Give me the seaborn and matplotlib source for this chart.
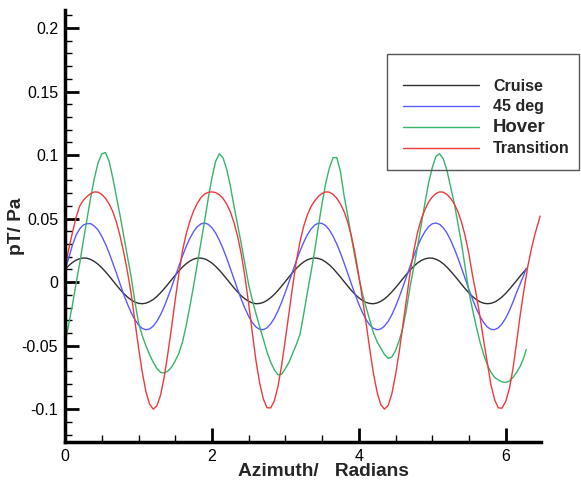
import numpy as np
import pandas as pd
import matplotlib
matplotlib.use("Agg")
import matplotlib.pyplot as plt
import matplotlib.patches as mpatches
from matplotlib.ticker import MultipleLocator, FixedLocator
import seaborn as sns

# ================================================
# DATA (step 0.05 rad)
# ================================================
azimuth = list(np.round(np.arange(0, 6.26, 0.05), 2)) + [6.28]

cruise = [0.0101, 0.0130, 0.0154, 0.0173, 0.0185, 0.0190, 0.0188, 0.0178, 0.0162, 0.0140,
          0.0113, 0.0082, 0.0048, 0.0012, -0.0024, -0.0059, -0.0090, -0.0118, -0.0140, -0.0157,
          -0.0167, -0.0170, -0.0166, -0.0154, -0.0137, -0.0113, -0.0084, -0.0052, -0.0017, 0.0019,
          0.0054, 0.0088, 0.0119, 0.0145, 0.0166, 0.0181, 0.0189, 0.0189, 0.0183, 0.0169,
          0.0150, 0.0124, 0.0095, 0.0061, 0.0026, -0.0010, -0.0045, -0.0078, -0.0108, -0.0132,
          -0.0151, -0.0164, -0.0170, -0.0168, -0.0160, -0.0144, -0.0123, -0.0096, -0.0065, -0.0031,
          0.0005, 0.0041, 0.0076, 0.0108, 0.0136, 0.0159, 0.0176, 0.0186, 0.0190, 0.0186,
          0.0176, 0.0158, 0.0135, 0.0107, 0.0074, 0.0040, 0.0004, -0.0032, -0.0066, -0.0097,
          -0.0123, -0.0145, -0.0160, -0.0168, -0.0170, -0.0164, -0.0151, -0.0132, -0.0107, -0.0077,
          -0.0044, -0.0009, 0.0027, 0.0062, 0.0096, 0.0125, 0.0151, 0.0170, 0.0183, 0.0189,
          0.0189, 0.0180, 0.0166, 0.0145, 0.0118, 0.0087, 0.0053, 0.0018, -0.0018, -0.0053,
          -0.0085, -0.0114, -0.0137, -0.0155, -0.0166, -0.0170, -0.0167, -0.0157, -0.0140, -0.0117,
          -0.0089, -0.0057, -0.0022, 0.0013, 0.0049, 0.0083, 0.0100]

deg45 = [0.010, 0.019, 0.029, 0.037, 0.042, 0.045, 0.046, 0.046, 0.044, 0.041,
         0.036, 0.030, 0.023, 0.015, 0.007, -0.0016, -0.010, -0.0173, -0.024, -0.0295,
         -0.0337, -0.0364, -0.0375, -0.0369, -0.0347, -0.0309, -0.0257, -0.0193, -0.0119, -0.0040,
         0.0044, 0.0126, 0.0207, 0.0281, 0.0345, 0.0397, 0.0436, 0.0458, 0.0465, 0.0455,
         0.0428, 0.0387, 0.0331, 0.0265, 0.0190, 0.0109, 0.0025, -0.0057, -0.0136, -0.0207,
         -0.0269, -0.0318, -0.0353, -0.0372, -0.0374, -0.0360, -0.0329, -0.0284, -0.0226, -0.0157,
         -0.0080, 0.0002, 0.0086, 0.0168, 0.0245, 0.0314, 0.0373, 0.0418, 0.0449, 0.0464,
         0.0462, 0.0444, 0.0410, 0.0360, 0.0300, 0.0229, 0.0150, 0.0067, -0.0016, -0.0097,
         -0.0173, -0.0240, -0.0296, -0.0338, -0.0364, -0.0375, -0.0369, -0.0346, -0.0309, -0.0257,
         -0.0192, -0.0119, -0.0039, 0.0044, 0.0127, 0.0207, 0.0281, 0.0345, 0.0397, 0.0436,
         0.0459, 0.0465, 0.0455, 0.0428, 0.0387, 0.0331, 0.0264, 0.0189, 0.0108, 0.0025,
         -0.0058, -0.0136, -0.0208, -0.0269, -0.0318, -0.0353, -0.0372, -0.0374, -0.0360, -0.0329,
         -0.0284, -0.0226, -0.0156, -0.0080, -0.0010, 0.0060, 0.0110]

hover = [-0.048, -0.033, -0.018, -0.001, 0.015, 0.033, 0.050, 0.067, 0.082, 0.094,
         0.101, 0.102, 0.095, 0.082, 0.067, 0.052, 0.036, 0.020, 0.004, -0.015,
         -0.032, -0.042, -0.050, -0.057, -0.063, -0.068, -0.071, -0.0715, -0.070, -0.067,
         -0.062, -0.056, -0.047, -0.034, -0.019, -0.003, 0.014, 0.031, 0.048, 0.066,
         0.082, 0.095, 0.101, 0.098, 0.089, 0.076, 0.060, 0.045, 0.030, 0.014,
         -0.002, -0.014, -0.025, -0.035, -0.045, -0.055, -0.063, -0.069, -0.073, -0.0725,
         -0.068, -0.063, -0.056, -0.049, -0.041, -0.025, -0.008, 0.008, 0.025, 0.044,
         0.062, 0.078, 0.090, 0.098, 0.098, 0.087, 0.068, 0.052, 0.035, 0.019,
         0.004, -0.009, -0.020, -0.030, -0.040, -0.047, -0.052, -0.057, -0.060, -0.059,
         -0.054, -0.046, -0.036, -0.021, -0.003, 0.012, 0.028, 0.045, 0.062, 0.078,
         0.090, 0.099, 0.101, 0.097, 0.088, 0.075, 0.062, 0.046, 0.030, 0.011,
         -0.008, -0.022, -0.035, -0.047, -0.057, -0.065, -0.071, -0.075, -0.077, -0.0785,
         -0.079, -0.078, -0.075, -0.071, -0.066, -0.059, -0.053]

azimuth_tr = list(np.round(np.arange(0, 6.41, 0.05), 2)) + [6.47]
transition = [0.011, 0.026, 0.039, 0.051, 0.060, 0.0645, 0.0675, 0.0697, 0.071, 0.0708,
              0.069, 0.066, 0.0615, 0.0555, 0.047, 0.036, 0.023, 0.008, -0.009, -0.0304,
              -0.0515, -0.0704, -0.086, -0.0959, -0.100, -0.0975, -0.089, -0.0747, -0.056, -0.0358,
              -0.014, 0.0064, 0.025, 0.038, 0.048, 0.056, 0.062, 0.0665, 0.0693, 0.0707,
              0.071, 0.0705, 0.0688, 0.066, 0.0615, 0.0555, 0.047, 0.036, 0.022, 0.004,
              -0.017, -0.040, -0.062, -0.0794, -0.092, -0.0989, -0.099, -0.0935, -0.082, -0.0652,
              -0.045, -0.024, -0.003, 0.0168, 0.032, 0.044, 0.053, 0.0595, 0.064, 0.0675,
              0.0698, 0.071, 0.0708, 0.069, 0.066, 0.0615, 0.0555, 0.047, 0.036, 0.022,
              0.005, -0.013, -0.0325, -0.0531, -0.072, -0.0868, -0.0965, -0.100, -0.097, -0.088,
              -0.073, -0.0551, -0.034, -0.0126, 0.008, 0.025, 0.039, 0.0495, 0.057, 0.063,
              0.067, 0.0697, 0.071, 0.0708, 0.069, 0.066, 0.0615, 0.0555, 0.047, 0.036,
              0.022, 0.005, -0.010, -0.027, -0.046, -0.0635, -0.081, -0.0926, -0.099, -0.0992,
              -0.094, -0.084, -0.068, -0.047, -0.025, -0.006, 0.012, 0.026, 0.038, 0.052]

names = ["Cruise", "45 deg", "Hover", "Transition"]
colors = {"Cruise": "#303030", "45 deg": "#5a5aff", "Hover": "#35b46a", "Transition": "#ee3a3a"}

df = pd.concat([
    pd.DataFrame({"azimuth": azimuth, "pT": cruise, "case": "Cruise"}),
    pd.DataFrame({"azimuth": azimuth, "pT": deg45, "case": "45 deg"}),
    pd.DataFrame({"azimuth": azimuth, "pT": hover, "case": "Hover"}),
    pd.DataFrame({"azimuth": azimuth_tr, "pT": transition, "case": "Transition"}),
], ignore_index=True)

# ================================================
# PLOT
# ================================================
sns.set_style("white")
plt.rcParams['font.family'] = ['Liberation Sans', 'DejaVu Sans']

fig = plt.figure(figsize=(5.81, 4.87), dpi=100)
ax = fig.add_axes([0.112, 0.092, 0.819, 0.887])

sns.lineplot(data=df, x="azimuth", y="pT", hue="case", hue_order=names,
             palette=colors, sort=False, estimator=None, linewidth=1.0,
             legend=False, ax=ax)

ax.set_xlim(0, 6.48)
ax.set_ylim(-0.126, 0.214)

ax.xaxis.set_major_locator(FixedLocator([0, 2, 4, 6]))
ax.xaxis.set_minor_locator(MultipleLocator(0.5))
ax.set_xticklabels(["0", "2", "4", "6"])
ax.yaxis.set_major_locator(FixedLocator([-0.1, -0.05, 0, 0.05, 0.1, 0.15, 0.2]))
ax.yaxis.set_minor_locator(MultipleLocator(0.01))
ax.set_yticklabels(["-0.1", "-0.05", "0", "0.05", "0.1", "0.15", "0.2"])

ax.tick_params(which='both', left=True, bottom=True, top=False, right=False)
ax.tick_params(which='major', direction='in', length=10, width=2, labelsize=11.5,
               colors='black', pad=5)
ax.tick_params(which='minor', direction='in', length=5, width=1, colors='black')
for side in ['top', 'right']:
    ax.spines[side].set_visible(False)
for side in ['left', 'bottom']:
    ax.spines[side].set_linewidth(2.5)
    ax.spines[side].set_color('black')

ax.set_xlabel("Azimuth/   Radians", fontsize=13.8, fontweight='bold')
ax.set_ylabel("pT/ Pa", fontsize=13.8, fontweight='bold')
ax.xaxis.set_label_coords(0.542, -0.048)
ax.yaxis.set_label_coords(-0.084, 0.5)

leg = ax.legend(ax.get_lines(), names, loc='upper left',
                bbox_to_anchor=(403 / 581, 1 - 79 / 487), bbox_transform=fig.transFigure,
                frameon=False, borderpad=0, borderaxespad=0, handlelength=4.75,
                handletextpad=0.9, labelspacing=0.32,
                prop={'weight': 'bold', 'size': 11.5})
leg.get_texts()[2].set_fontsize(13.4)

box = mpatches.Rectangle((387 / 581, 1 - 170 / 487), 192 / 581, 116 / 487,
                         transform=fig.transFigure, fill=False,
                         edgecolor='#555555', linewidth=1.0)
fig.patches.append(box)

plt.savefig('out.png', dpi=100)
